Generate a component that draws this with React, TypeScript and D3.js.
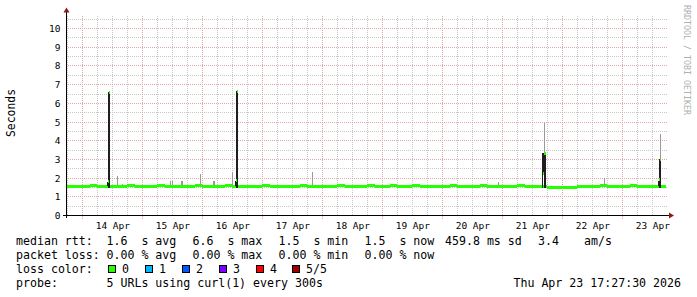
import React from "react";
import * as d3 from "d3";

const W = 697;
const H = 297;

// ---- data ----
const startIso = "2026-04-13T17:27:30";
const endIso = "2026-04-23T17:27:30";
const yTickValues = [0, 1, 2, 3, 4, 5, 6, 7, 8, 9, 10];
const dayLabels = ["14 Apr", "15 Apr", "16 Apr", "17 Apr", "18 Apr", "19 Apr", "20 Apr", "21 Apr", "22 Apr", "23 Apr"];

// median rtt (seconds), 3-hour steps starting 13 Apr 15:00
const medianStartIso = "2026-04-13T15:00:00";
const medianStepHours = 3;
const medianValues = [
  1.55, 1.56, 1.55,
  1.55, 1.58, 1.55, 1.55, 1.56, 1.55, 1.58, 1.55,
  1.55, 1.55, 1.58, 1.55, 1.55, 1.56, 1.55, 1.58,
  1.55, 1.55, 1.55, 1.58, 1.55, 1.55, 1.56, 1.55,
  1.58, 1.55, 1.55, 1.55, 1.55, 1.58, 1.55, 1.55,
  1.55, 1.56, 1.58, 1.55, 1.55, 1.55, 1.58, 1.55,
  1.55, 1.58, 1.55, 1.55, 1.58, 1.55, 1.55, 1.56,
  1.55, 1.58, 1.55, 1.55, 1.55, 1.58, 1.55, 1.55,
  1.55, 1.55, 1.58, 1.55, 1.55, 1.55, 1.52, 1.52,
  1.52, 1.52, 1.53, 1.55, 1.55, 1.58, 1.55, 1.55,
  1.55, 1.58, 1.55, 1.55, 1.55, 1.55,
];

// smoke: time, minutes, low, high, shade
const smokeTimes = [
  "2026-04-14T13:52", "2026-04-14T15:52", "2026-04-15T11:04", "2026-04-15T11:52",
  "2026-04-15T15:28", "2026-04-15T23:04", "2026-04-16T04:16", "2026-04-16T11:52",
  "2026-04-17T19:52", "2026-04-20T22:16", "2026-04-21T23:52", "2026-04-22T16:40",
  "2026-04-14T09:52", "2026-04-14T10:16",
  "2026-04-16T13:04", "2026-04-16T13:28",
  "2026-04-21T15:52", "2026-04-21T16:16", "2026-04-21T16:40", "2026-04-21T16:40",
  "2026-04-23T14:16", "2026-04-23T14:40", "2026-04-23T15:04",
];
const smokeMinutes = [24, 24, 24, 24, 48, 24, 48, 24, 24, 24, 24, 24, 24, 48, 24, 48, 24, 24, 48, 24, 24, 48, 24];
const smokeLow = [1.62, 1.62, 1.62, 1.62, 1.62, 1.62, 1.62, 1.62, 1.62, 1.62, 1.62, 1.62, 1.6, 1.48, 1.6, 1.48, 1.48, 2.26, 1.48, 3.33, 1.6, 1.48, 3.02];
const smokeHigh = [2.14, 1.68, 1.84, 1.82, 1.84, 2.2, 1.87, 2.32, 2.32, 1.77, 1.7, 2.0, 1.8, 6.6, 1.87, 6.64, 3.33, 3.33, 3.33, 4.96, 1.84, 3.02, 4.35];
const smokeShade = ["l", "l", "l", "l", "l", "l", "l", "l", "l", "l", "l", "l", "d", "d", "d", "d", "d", "d", "d", "l", "d", "d", "l"];

// elevated median samples: time, minutes, value
const medianEventTimes = ["2026-04-14T10:16", "2026-04-14T10:40", "2026-04-16T13:28", "2026-04-16T13:52", "2026-04-21T16:16", "2026-04-21T16:40", "2026-04-23T14:40", "2026-04-23T15:04"];
const medianEventMinutes = [24, 24, 24, 24, 24, 48, 24, 24];
const medianEventValues = [1.8, 6.6, 1.85, 6.64, 2.25, 3.3, 1.9, 3.02];

// legend
const rttStats = ["1.6  s avg", "6.6  s max", "1.5  s min", "1.5  s now"];
const lossStats = ["0.00 % avg", "0.00 % max", "0.00 % min", "0.00 % now"];
const sdText = "459.8 ms sd";
const amText = "3.4";
const amUnit = "am/s";
const lossLabels = ["0", "1", "2", "3", "4", "5/5"];
const lossColors = ["#26ff00", "#00b8ff", "#0059ff", "#7e00ff", "#ff0000", "#a10000"];
const probeText = "5 URLs using curl(1) every 300s";
const stampText = "Thu Apr 23 17:27:30 2026";

const utc = (s: string) => new Date(s.length === 16 ? s + ":00Z" : s + "Z");

export default function App() {
  const left = 66, right = 666, top = 15.5, bottom = 215.5;
  const x = d3.scaleUtc().domain([utc(startIso), utc(endIso)]).range([left, right]);
  const y = d3.scaleLinear().domain([0, 10.7]).range([bottom, top]);

  const minorV = d3.utcHour.every(6)!.range(utc(startIso), utc(endIso));
  const majorV = d3.utcDay.range(utc(startIso), utc(endIso));
  const firstDay = d3.utcDay.ceil(utc(startIso));
  const minorH = d3.range(0.5, 10.7, 1);

  const grey = "#c8c8c8";
  const red = "#e3a6a6";
  const mono = "'DejaVu Sans Mono', monospace";

  const band = (v: number) => Math.round(y(v) - 1.5);

  const mStart = utc(medianStartIso);
  const medianRects = medianValues.map((v, i) => {
    const t0 = d3.utcHour.offset(mStart, i * medianStepHours);
    const t1 = d3.utcHour.offset(mStart, (i + 1) * medianStepHours);
    const x0 = Math.max(left, Math.round(x(t0)));
    const x1 = Math.min(right, Math.round(x(t1)));
    if (x1 <= x0) return null;
    return <rect key={"m" + i} x={x0} y={band(v)} width={x1 - x0} height={3} fill="#26ff00" />;
  });

  const smokeRects = smokeTimes.map((t, i) => {
    const x0 = Math.floor(x(utc(t)));
    const w = Math.max(1, Math.round(smokeMinutes[i] / 24));
    const y0 = Math.round(y(smokeHigh[i]));
    const y1 = Math.round(y(smokeLow[i]));
    return <rect key={"s" + i} x={x0} y={y0} width={w} height={Math.max(1, y1 - y0)} fill={smokeShade[i] === "d" ? "#1e1e1e" : "#9a9a9a"} />;
  });

  const medEv = medianEventTimes.map((t, i) => {
    const x0 = Math.floor(x(utc(t)));
    const w = Math.max(1, Math.round(medianEventMinutes[i] / 24));
    return <rect key={"e" + i} x={x0} y={band(medianEventValues[i])} width={w} height={3} fill="#26ff00" />;
  });

  const statX = [106.5, 192.5, 278.5, 364.5];
  const boxX = [108.5, 145.5, 182.5, 219.5, 256.5, 292.5];

  return (
    <svg width={W} height={H} style={{ position: "absolute", left: 0, top: 0, background: "#fff" }} xmlns="http://www.w3.org/2000/svg">
      <rect x={0} y={0} width={W} height={H} fill="#fff" />
      {/* grid */}
      <g shapeRendering="crispEdges">
        {minorV.map((t, i) => {
          const px = Math.floor(x(t)) + 0.5;
          return <line key={"gv" + i} x1={px} x2={px} y1={top} y2={bottom} stroke={grey} strokeDasharray="1,1" />;
        })}
        {minorH.map((v, i) => {
          const py = Math.floor(y(v)) + 0.5;
          return <line key={"gh" + i} x1={left} x2={right + 2} y1={py} y2={py} stroke={grey} strokeDasharray="1,1" />;
        })}
        {majorV.map((t, i) => {
          const px = Math.floor(x(t)) + 0.5;
          return <line key={"mv" + i} x1={px} x2={px} y1={top} y2={bottom + 3} stroke={red} strokeDasharray="1,1" />;
        })}
        {yTickValues.filter((v) => v > 0).map((v, i) => {
          const py = Math.floor(y(v)) + 0.5;
          return <line key={"mh" + i} x1={left} x2={right + 2} y1={py} y2={py} stroke={red} strokeDasharray="1,1" />;
        })}
      </g>
      {/* data */}
      <g shapeRendering="crispEdges">
        {medianRects}
        {smokeRects}
        {medEv}
      </g>
      {/* axes */}
      <g shapeRendering="crispEdges">
        <line x1={63} x2={669} y1={215.5} y2={215.5} stroke="#000" />
        <line x1={66.5} x2={66.5} y1={218} y2={12} stroke="#000" />
      </g>
      <polygon points="674,215.5 669,212.5 669,218.5" fill="#8b1a1a" />
      <polygon points="66.5,7.5 63.5,12.5 69.5,12.5" fill="#8b1a1a" />
      {/* y tick labels */}
      {yTickValues.map((v) => (
        <text key={"yt" + v} x={60.5} y={Math.floor(y(v)) + 4} textAnchor="end" fontFamily={mono} fontSize={9.5} fill="#000">{v}</text>
      ))}
      {/* x tick labels */}
      {dayLabels.map((lab, i) => (
        <text key={"xt" + i} x={x(d3.utcHour.offset(d3.utcDay.offset(firstDay, i), 12)) + 0.5} y={228.5} textAnchor="middle" fontFamily={mono} fontSize={9.5} fill="#000">{lab}</text>
      ))}
      {/* y label */}
      <text transform="translate(15,113) rotate(-90)" textAnchor="middle" fontFamily={mono} fontSize={11.4} fill="#000">Seconds</text>
      {/* watermark */}
      <text transform="translate(684,5) rotate(90)" textAnchor="start" fontFamily={mono} fontSize={8.3} fill="#b0b0b0">RRDTOOL / TOBI OETIKER</text>
      {/* legend */}
      <g fontFamily={mono} fontSize={11.6} fill="#000" style={{ whiteSpace: "pre" }}>
        <text x={16} y={245} xmlSpace="preserve">median rtt:</text>
        {rttStats.map((s, i) => (
          <text key={"r" + i} x={statX[i]} y={245} xmlSpace="preserve">{s}</text>
        ))}
        <text x={445} y={245} xmlSpace="preserve">{sdText}</text>
        <text x={538} y={245} xmlSpace="preserve">{amText}</text>
        <text x={584} y={245} xmlSpace="preserve">{amUnit}</text>
        <text x={16} y={259} xmlSpace="preserve">packet loss:</text>
        {lossStats.map((s, i) => (
          <text key={"p" + i} x={statX[i]} y={259} xmlSpace="preserve">{s}</text>
        ))}
        <text x={16} y={273} xmlSpace="preserve">loss color:</text>
        {lossLabels.map((lab, i) => (
          <g key={"lc" + i}>
            <rect x={boxX[i]} y={265.5} width={7} height={7} fill={lossColors[i]} stroke="#000" shapeRendering="crispEdges" />
            <text x={boxX[i] + 13.5} y={273} xmlSpace="preserve">{lab}</text>
          </g>
        ))}
        <text x={16} y={287} xmlSpace="preserve">probe:</text>
        <text x={106.5} y={287} xmlSpace="preserve">{probeText}</text>
        <text x={681} y={287} textAnchor="end" xmlSpace="preserve">{stampText}</text>
      </g>
    </svg>
  );
}
